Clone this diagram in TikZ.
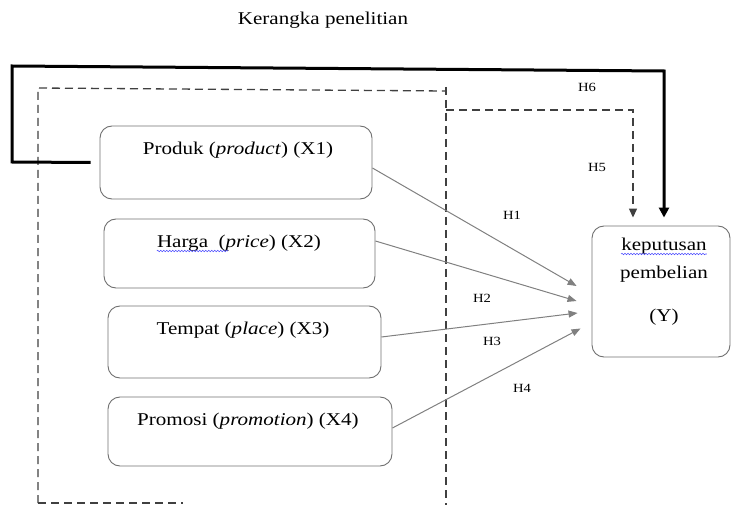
\documentclass[tikz,border=0pt]{standalone}
\usepackage{fontspec}
\setmainfont{Liberation Serif}[FakeStretch=1.17]
\usetikzlibrary{arrows.meta,calc,decorations.pathmorphing}
\definecolor{boxline}{HTML}{707070}
\definecolor{arrgray}{HTML}{808080}
\definecolor{dashgray}{HTML}{404040}
\tikzset{
  box/.style={draw=boxline, line width=0.9pt, rounded corners=12pt, inner sep=0pt},
  txt/.style={font=\fontsize{18}{21}\selectfont, inner sep=0pt},
  hlab/.style={font=\fontsize{12.5}{14}\selectfont, inner sep=0pt},
  garrow/.style={draw=arrgray, line width=1pt, -{Triangle[length=9pt,width=7pt]}},
  dasharrow/.style={draw=dashgray, line width=1.3pt, dash pattern=on 8pt off 5pt, -{Triangle[length=9pt,width=8pt]}},
  thickarrow/.style={draw=black, line width=3pt, -{Triangle[length=10pt,width=10pt]}},
  dashbox/.style={draw=dashgray, line width=1.3pt, dash pattern=on 8pt off 5pt},
  squiggle/.style={draw=blue!70!white, line width=0.6pt, decorate, decoration={snake, amplitude=0.7pt, segment length=3pt}}
}
\begin{document}
\begin{tikzpicture}[x=1pt,y=-1pt]
\useasboundingbox (0,0) rectangle (731,505);
% title
\node[txt] (title) at (323,20) {Kerangka penelitian};
% dashed frame
\draw[dashbox] (38,503) -- (38,88) -- (446,91);
\draw[dashbox] (446,87) -- (446,505);
\draw[dashbox] (38,503) -- (183,503);
% boxes
\node[box, minimum width=272pt, minimum height=73pt] (x1) at (236,162.5) {};
\node[txt] (x1t) at (238,150) {Produk (\textit{product}) (X1)};
\node[box, minimum width=271pt, minimum height=69pt] (x2) at (239.5,253.5) {};
\node[txt] (x2t) at (239,243) {Harga~ (\textit{price}) (X2)};
\node[box, minimum width=273pt, minimum height=72pt] (x3) at (244.5,342) {};
\node[txt] (x3t) at (243,330) {Tempat (\textit{place}) (X3)};
\node[box, minimum width=284pt, minimum height=69pt] (x4) at (250,431.5) {};
\node[txt] (x4t) at (248,421) {Promosi (\textit{promotion}) (X4)};
\node[box, minimum width=138pt, minimum height=131pt] (y) at (661,291.5) {};
\node[txt] (y1) at (664,246) {keputusan};
\node[txt] (y2) at (664,274) {pembelian};
\node[txt] (y3) at (664,317) {(Y)};
% spell-check squiggles
\draw[squiggle] ($(x2t.west)+(0,8)$) -- ($(x2t.west)+(71,8)$);
\draw[squiggle] ($(y1.west)+(0,8)$) -- ($(y1.east)+(0,8)$);
% gray arrows
\draw[garrow] ([yshift=-5.5pt]x1.east) -- ([xshift=-15pt,yshift=5.5pt]y.west);
\draw[garrow] ([yshift=12.5pt]x2.east) -- ([xshift=-15pt,yshift=-9.5pt]y.west);
\draw[garrow] ([yshift=5pt]x3.east) -- ([xshift=-14pt,yshift=-21.5pt]y.west);
\draw[garrow] ([yshift=3.5pt]x4.east) -- ([xshift=-11pt,yshift=-37pt]y.west);
% H5 dashed arrow
\coordinate (h5s) at (446,110);
\draw[dasharrow] (h5s) -- (633,110) -- ([xshift=-28pt,yshift=8pt]y.north);
% H6 thick arrow
\draw[thickarrow] ([xshift=-9pt]x1.west) -- (12,162) -- (12,66) -- (664,71) -- ([xshift=3pt,yshift=8pt]y.north);
% labels
\node[hlab] (h1) at (512,215) {H1};
\node[hlab] (h2) at (482,298) {H2};
\node[hlab] (h3) at (492,341) {H3};
\node[hlab] (h4) at (522,388) {H4};
\node[hlab] (h5) at (597,167) {H5};
\node[hlab] (h6) at (587,87) {H6};
\end{tikzpicture}
\end{document}
